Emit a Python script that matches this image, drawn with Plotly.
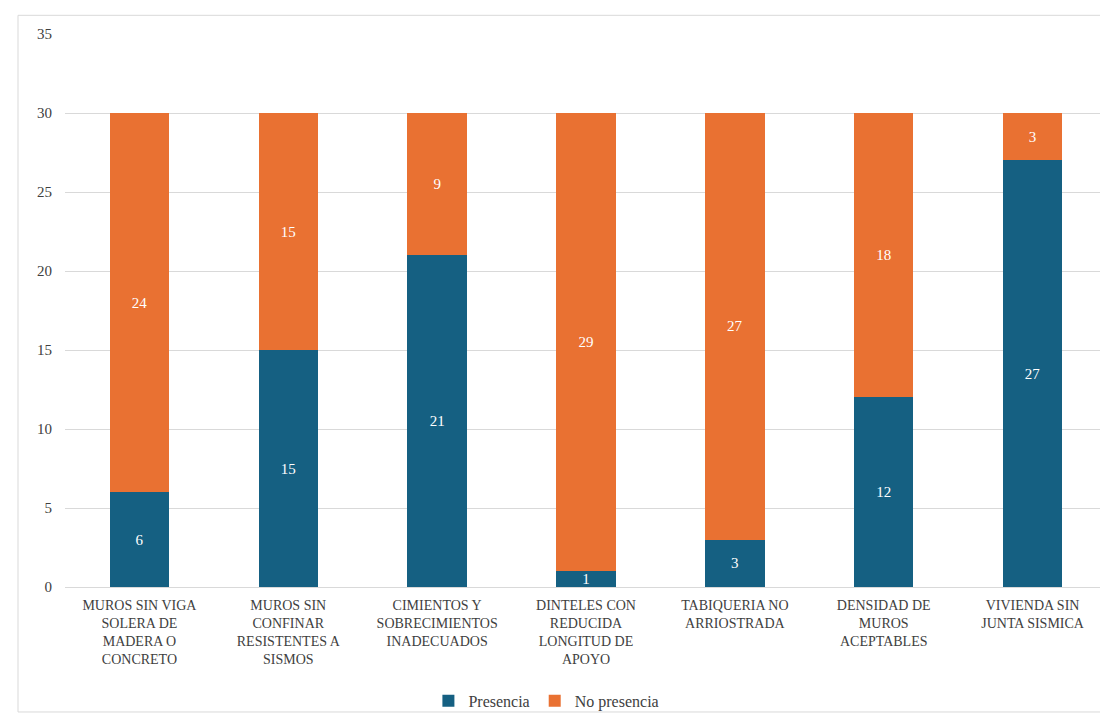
import plotly.graph_objects as go

categories = [
    "MUROS SIN VIGA<br>SOLERA DE<br>MADERA O<br>CONCRETO",
    "MUROS SIN<br>CONFINAR<br>RESISTENTES A<br>SISMOS",
    "CIMIENTOS Y<br>SOBRECIMIENTOS<br>INADECUADOS",
    "DINTELES CON<br>REDUCIDA<br>LONGITUD DE<br>APOYO",
    "TABIQUERIA NO<br>ARRIOSTRADA",
    "DENSIDAD DE<br>MUROS<br>ACEPTABLES",
    "VIVIENDA SIN<br>JUNTA SISMICA",
]
presencia = [6, 15, 21, 1, 3, 12, 27]
no_presencia = [24, 15, 9, 29, 27, 18, 3]
y_ticks = [0, 5, 10, 15, 20, 25, 30, 35]

BLUE = "#156082"
ORANGE = "#E97132"
FONT = "Liberation Serif"

fig = go.Figure()
fig.add_trace(go.Bar(
    x=categories, y=presencia, name="Presencia",
    marker=dict(color=BLUE, line=dict(width=0)),
    text=presencia, textposition="inside", insidetextanchor="middle", textangle=0,
    textfont=dict(family=FONT, size=15, color="white"),
))
fig.add_trace(go.Bar(
    x=categories, y=no_presencia, name="No presencia",
    marker=dict(color=ORANGE, line=dict(width=0)),
    text=no_presencia, textposition="inside", insidetextanchor="middle", textangle=0,
    textfont=dict(family=FONT, size=15, color="white"),
))

fig.update_layout(
    template="none",
    barmode="stack",
    bargap=0.6,
    width=1108, height=719,
    margin=dict(l=57, r=9, t=26, b=131),
    paper_bgcolor="white", plot_bgcolor="white",
    font=dict(family=FONT, color="#404040", size=14),
    uniformtext=dict(minsize=15, mode="show"),
    showlegend=True,
    legend=dict(orientation="h", x=0.462, xanchor="center", y=-0.175, yanchor="top",
                font=dict(family=FONT, size=16, color="#404040"),
                bgcolor="rgba(0,0,0,0)",
                traceorder="normal"),
    xaxis=dict(showgrid=False, showline=True, linecolor="#D9D9D9", linewidth=1,
               ticks="", ticklabelstandoff=5,
               tickfont=dict(family=FONT, size=14, color="#404040"),
               tickangle=0),
    yaxis=dict(range=[0, 35], tickvals=y_ticks, showgrid=True, gridcolor="#D9D9D9",
               gridwidth=1, zeroline=False, showline=False, ticks="",
               ticklabelstandoff=12,
               tickfont=dict(family=FONT, size=15, color="#404040")),
    shapes=[dict(type="rect", xref="paper", yref="paper",
                 x0=-0.0451, x1=1.0077, y0=-0.226, y1=1.0338,
                 line=dict(color="#D9D9D9", width=1), fillcolor="rgba(0,0,0,0)",
                 layer="below")],
)

fig.write_html("out.html")
